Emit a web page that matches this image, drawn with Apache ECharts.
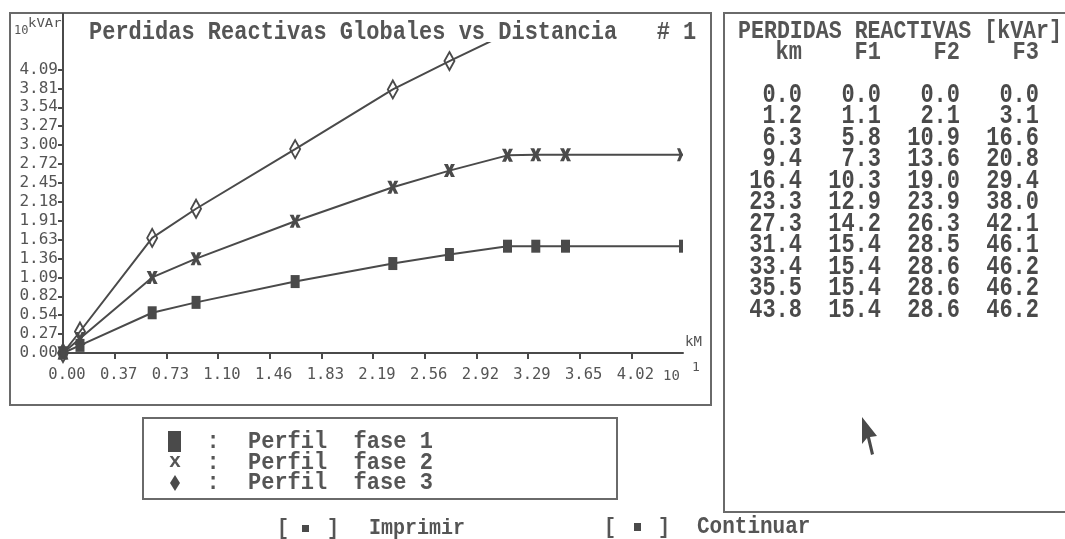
<!DOCTYPE html>
<html>
<head>
<meta charset="utf-8">
<script src="https://cdn.jsdelivr.net/npm/echarts@6/dist/echarts.min.js"></script>
<style>
html,body{margin:0;padding:0;background:#fff;}
#chart{width:1065px;height:539px;}
</style>
</head>
<body>
<div id="chart"></div>
<script>
// ---- data ----
const distanceKm = [0.0, 1.2, 6.3, 9.4, 16.4, 23.3, 27.3, 31.4, 33.4, 35.5, 43.8];
const lossF1 = [0.0, 1.1, 5.8, 7.3, 10.3, 12.9, 14.2, 15.4, 15.4, 15.4, 15.4];
const lossF2 = [0.0, 2.1, 10.9, 13.6, 19.0, 23.9, 26.3, 28.5, 28.6, 28.6, 28.6];
const lossF3 = [0.0, 3.1, 16.6, 20.8, 29.4, 38.0, 42.1, 46.1, 46.2, 46.2, 46.2];
const seriesNames = ['Perfil  fase 1', 'Perfil  fase 2', 'Perfil  fase 3'];
const xTickLabels = ['0.00','0.37','0.73','1.10','1.46','1.83','2.19','2.56','2.92','3.29','3.65','4.02'];
const yTickLabels = ['0.00','0.27','0.54','0.82','1.09','1.36','1.63','1.91','2.18','2.45','2.72','3.00','3.27','3.54','3.81','4.09'];
const unitScale = 10; // axes are shown in units of 10 (km, kVAr)
const xMax = 4.38, xStep = xMax / 12;
const yStep = 0.2725, yMax = 4.47;

const INK = '#4a4a4a';
const TXT = '#555555';
const FRAME = '#6a6a6a';
const MONO = '"Liberation Mono", "DejaVu Sans Mono", monospace';
const SMALL = '"DejaVu Sans Mono", "Liberation Mono", monospace';

const xTicks = xTickLabels.map((_, i) => i * xStep);
const yTicks = yTickLabels.map((_, i) => i * yStep);

const SYM_X = 'path://M0,0 L3.6,0 L5,3.4 L6.4,0 L10,0 L7,6 L10,12 L6.4,12 L5,8.6 L3.6,12 L0,12 L3,6 Z';
const SYM_X_HALF = 'path://M0,0 L3.6,0 L7,6 L3.6,12 L0,12 L3,6 Z';

function buildData(vals, lastSym) {
  return distanceKm.map((d, i) => {
    const item = { value: [d / unitScale, vals[i] / unitScale] };
    if (i === distanceKm.length - 1 && lastSym) {
      item.symbol = lastSym.symbol;
      item.symbolSize = lastSym.size;
      item.symbolOffset = lastSym.offset;
    }
    return item;
  });
}

const chart = echarts.init(document.getElementById('chart'), null, { renderer: 'canvas' });

function txt(x, y, text, font, opts) {
  opts = opts || {};
  return {
    type: 'text', x: x, y: y, z: 10,
    scaleY: opts.sy || 1,
    style: {
      text: text, font: font, fill: opts.fill || TXT,
      align: opts.align || 'left', verticalAlign: 'middle'
    }
  };
}

const graphics = [];
// frames
graphics.push({ type: 'rect', shape: { x: 10, y: 13, width: 701, height: 392 }, style: { fill: null, stroke: FRAME, lineWidth: 2 } });
graphics.push({ type: 'rect', shape: { x: 724, y: 13, width: 360, height: 499 }, style: { fill: null, stroke: FRAME, lineWidth: 2 } });
graphics.push({ type: 'rect', shape: { x: 143, y: 418, width: 474, height: 81 }, style: { fill: null, stroke: FRAME, lineWidth: 2 } });
// y axis extension up to frame
graphics.push({ type: 'line', shape: { x1: 63, y1: 13, x2: 63, y2: 44 }, style: { stroke: INK, lineWidth: 2 } });
// title
graphics.push(txt(89, 32, 'Perdidas Reactivas Globales vs Distancia   # 1', 'bold 22px ' + MONO, { sy: 1.2 }));
// unit labels
graphics.push(txt(14, 31, '10', '12px ' + SMALL));
graphics.push(txt(28, 24, 'kVAr', '14px ' + SMALL, { sy: 0.85 }));
graphics.push(txt(685, 342, 'kM', '14px ' + SMALL));
graphics.push(txt(663, 376, '10', '14px ' + SMALL));
graphics.push(txt(692, 368, '1', '13px ' + SMALL));

// table panel
graphics.push(txt(738, 32, 'PERDIDAS REACTIVAS [kVAr]', 'bold 21.6px ' + MONO, { sy: 1.15 }));
const colRight = [802, 881, 960, 1039];
const headers = ['km', 'F1', 'F2', 'F3'];
headers.forEach((h, c) => graphics.push(txt(colRight[c], 53, h, 'bold 22px ' + MONO, { align: 'right', sy: 1.15 })));
const cols = [distanceKm, lossF1, lossF2, lossF3];
distanceKm.forEach((_, r) => {
  cols.forEach((arr, c) => {
    graphics.push(txt(colRight[c], 95 + r * 21.5, arr[r].toFixed(1), 'bold 22px ' + MONO, { align: 'right', sy: 1.25, fill: '#4a4a4a' }));
  });
});

// legend box
const legY = [442, 463, 483];
graphics.push({ type: 'rect', shape: { x: 168, y: 431, width: 13, height: 21 }, style: { fill: INK } });
graphics.push(txt(175, legY[1] - 1, 'x', 'bold 20px ' + MONO, { align: 'center' }));
graphics.push({ type: 'polygon', shape: { points: [[175, 475], [180, 483], [175, 491], [170, 483]] }, style: { fill: INK } });
seriesNames.forEach((n, i) => {
  graphics.push(txt(213, legY[i], ':', 'bold 22px ' + MONO, { align: 'center', sy: 1.1 }));
  graphics.push(txt(248, legY[i], n, 'bold 22px ' + MONO, { sy: 1.1 }));
});

// buttons
graphics.push(txt(277, 528, '[', 'bold 20px ' + MONO, { sy: 1.1 }));
graphics.push({ type: 'rect', shape: { x: 302, y: 525, width: 7, height: 7 }, style: { fill: INK } });
graphics.push(txt(327, 528, ']', 'bold 20px ' + MONO, { sy: 1.1 }));
graphics.push(txt(369, 528, 'Imprimir', 'bold 20px ' + MONO, { sy: 1.1 }));
graphics.push(txt(604, 527, '[', 'bold 20px ' + MONO, { sy: 1.1 }));
graphics.push({ type: 'rect', shape: { x: 634, y: 523, width: 7, height: 8 }, style: { fill: INK } });
graphics.push(txt(658, 527, ']', 'bold 20px ' + MONO, { sy: 1.1 }));
graphics.push(txt(697, 527, 'Continuar', 'bold 21px ' + MONO, { sy: 1.1 }));

// mouse pointer
graphics.push({ type: 'polygon', shape: { points: [[862, 417], [862, 444], [867, 438], [871, 455], [874, 454], [870, 437], [877, 436]] }, style: { fill: INK } });

const option = {
  animation: false,
  backgroundColor: '#ffffff',
  grid: { left: 63, top: 43, width: 620, height: 310 },
  xAxis: {
    type: 'value', min: 0, max: xMax, interval: xStep,
    splitLine: { show: false },
    axisLine: { lineStyle: { color: INK, width: 2 } },
    axisTick: { length: 6, lineStyle: { color: INK, width: 2 }, customValues: xTicks },
    axisLabel: {
      customValues: xTicks,
      formatter: v => xTickLabels[Math.round(v / xStep)] || '',
      fontFamily: SMALL, fontSize: 15.5, color: TXT, margin: 14, padding: [0, 0, 0, 8]
    }
  },
  yAxis: {
    type: 'value', min: 0, max: yMax, interval: yStep,
    splitLine: { show: false },
    axisLine: { lineStyle: { color: INK, width: 2 } },
    axisTick: { length: 5, lineStyle: { color: INK, width: 2 }, customValues: yTicks },
    axisLabel: {
      customValues: yTicks,
      formatter: v => yTickLabels[Math.round(v / yStep)] || '',
      fontFamily: SMALL, fontSize: 16, color: TXT, margin: 5
    }
  },
  series: [
    {
      name: seriesNames[0], type: 'line', clip: true,
      data: buildData(lossF1, { symbol: 'rect', size: [4, 13], offset: [-2, 0] }),
      symbol: 'rect', symbolSize: [9, 13], showAllSymbol: true,
      lineStyle: { color: INK, width: 2 }, itemStyle: { color: INK }
    },
    {
      name: seriesNames[1], type: 'line', clip: true,
      data: buildData(lossF2, { symbol: SYM_X_HALF, size: [6, 13], offset: [-3, 0] }),
      symbol: SYM_X, symbolSize: [11, 13], showAllSymbol: true,
      lineStyle: { color: INK, width: 2 }, itemStyle: { color: INK }
    },
    {
      name: seriesNames[2], type: 'line', clip: true,
      data: buildData(lossF3),
      symbol: 'diamond', symbolSize: [10, 18], showAllSymbol: true,
      lineStyle: { color: INK, width: 2 },
      itemStyle: { color: 'rgba(255,255,255,0)', borderColor: INK, borderWidth: 2 }
    }
  ],
  graphic: { elements: graphics }
};
chart.setOption(option);
</script>
</body>
</html>
